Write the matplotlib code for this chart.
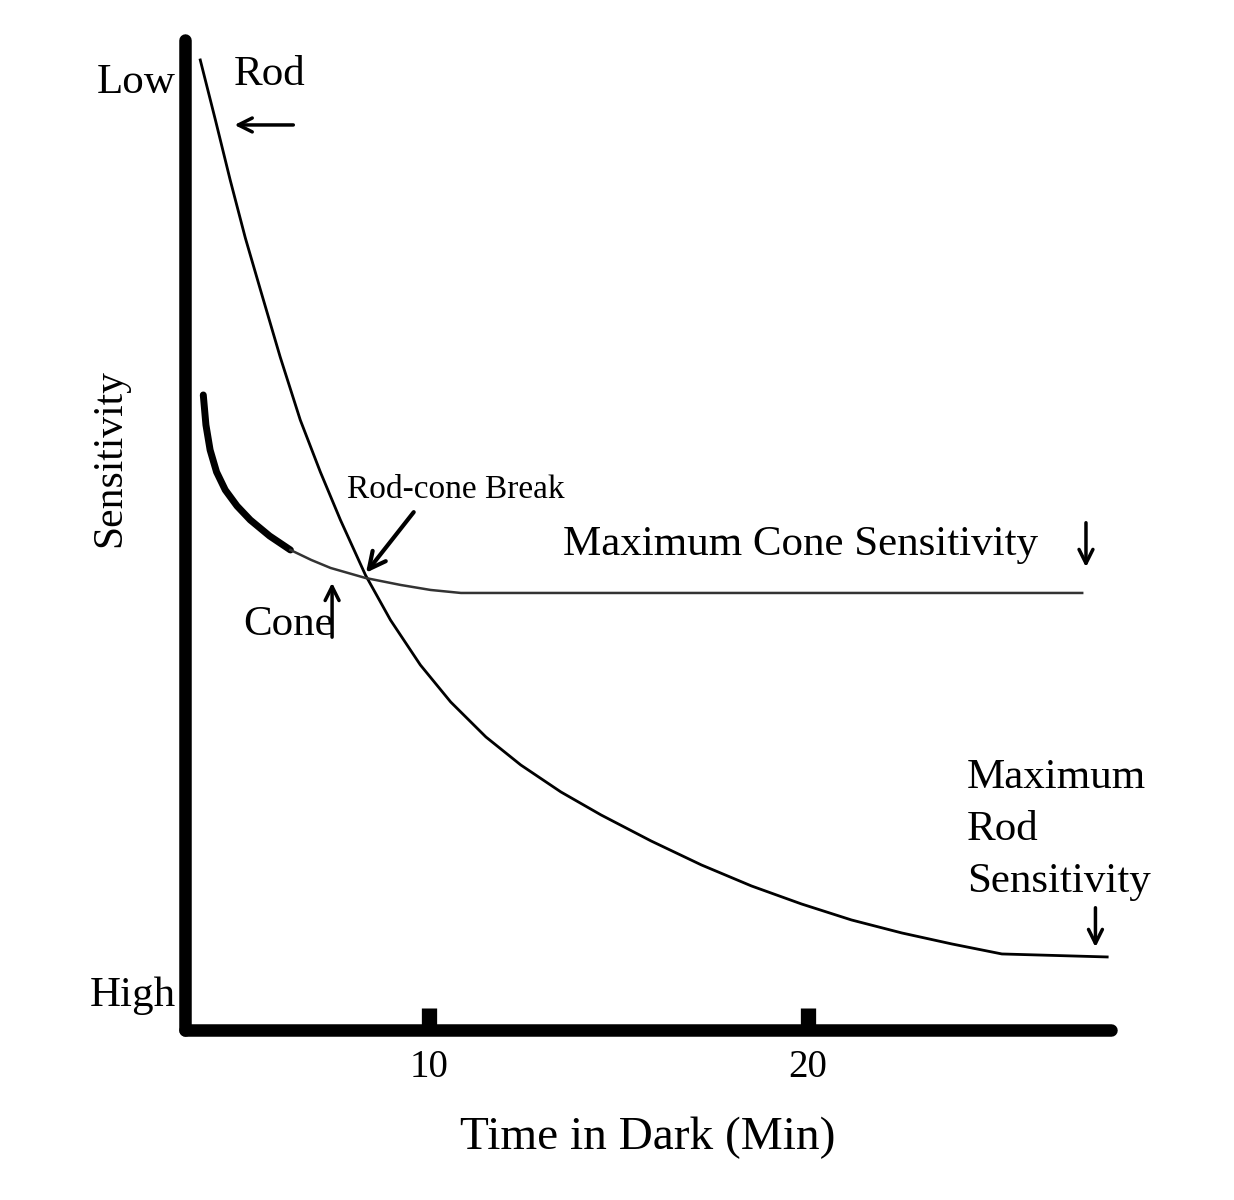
import numpy as np
import matplotlib.pyplot as plt

plt.rcParams['font.family'] = ['Liberation Serif', 'DejaVu Serif']

# curves: time (min) vs sensitivity (arbitrary, 0 = high, 99 = low)
rod_t = [3.97, 4.37, 4.76, 5.16, 5.56, 6.08, 6.61, 7.14, 7.67, 8.33, 8.99, 9.78, 10.58, 11.51,
         12.43, 13.49, 14.55, 15.87, 17.20, 18.52, 19.84, 21.16, 22.49, 23.81, 25.13, 27.91]
rod_s = [97.0, 91.0, 85.0, 79.2, 74.0, 67.3, 61.0, 55.8, 51.0, 45.5, 41.0, 36.5, 32.8, 29.3,
         26.5, 23.8, 21.5, 18.9, 16.5, 14.4, 12.6, 11.0, 9.7, 8.6, 7.6, 7.3]
cone_t = [4.05, 4.12, 4.23, 4.40, 4.63, 4.94, 5.29, 5.80, 6.35, 6.90, 7.41, 8.33, 9.26, 10.05, 10.85, 14.55, 27.25]
cone_s = [63.5, 60.5, 58.0, 55.8, 54.0, 52.4, 51.0, 49.4, 48.0, 47.0, 46.2, 45.2, 44.5, 44.0, 43.7, 43.7, 43.7]

fig = plt.figure(figsize=(12.34, 12), dpi=100)
ax = fig.add_axes([0.15, 0.1417, 0.75, 0.825])
ax.set_xlim(3.57, 28.0)
ax.set_ylim(0, 99)

ax.plot(rod_t, rod_s, color='black', lw=2)
ax.plot(cone_t[:9], cone_s[:9], color='black', lw=5, solid_capstyle='round')
ax.plot(cone_t[8:], cone_s[8:], color='#333333', lw=1.8)

for s in ['top', 'right']:
    ax.spines[s].set_visible(False)
for s in ['left', 'bottom']:
    ax.spines[s].set_linewidth(9)
    ax.spines[s].set_capstyle('round')
ax.set_xticks([10, 20])
ax.set_xticklabels(['10', '20'], fontsize=28)
ax.tick_params(axis='x', length=16, width=11, direction='in', pad=14)
ax.set_yticks([])
ax.set_xlabel('Time in Dark (Min)', fontsize=34, labelpad=22)
ax.set_ylabel('Sensitivity', fontsize=30, labelpad=30)
ax.yaxis.set_label_coords(-0.06, 0.578)

tf = 31
ax.text(-0.01, 0.957, 'Low', transform=ax.transAxes, ha='right', va='center', fontsize=tf)
ax.text(-0.01, 0.035, 'High', transform=ax.transAxes, ha='right', va='center', fontsize=tf)
ax.text(5.8, 95.5, 'Rod', ha='center', va='center', fontsize=tf)
ax.annotate('', xy=(4.8, 90.5), xytext=(6.5, 90.5),
            arrowprops=dict(arrowstyle='->', lw=2.5, mutation_scale=25))
ax.text(6.3, 40.5, 'Cone', ha='center', va='center', fontsize=tf)
ax.annotate('', xy=(7.45, 45.0), xytext=(7.45, 39),
            arrowprops=dict(arrowstyle='->', lw=2.5, mutation_scale=25))
ax.text(7.85, 54, 'Rod-cone Break', ha='left', va='center', fontsize=24)
ax.annotate('', xy=(8.3, 45.5), xytext=(9.65, 52),
            arrowprops=dict(arrowstyle='->', lw=3, mutation_scale=30))
ax.text(13.55, 48.5, 'Maximum Cone Sensitivity', ha='left', va='center', fontsize=tf)
ax.annotate('', xy=(27.35, 46), xytext=(27.35, 51),
            arrowprops=dict(arrowstyle='->', lw=2.5, mutation_scale=25))
ax.text(24.2, 20, 'Maximum\nRod\nSensitivity', ha='left', va='center',
        fontsize=tf, linespacing=1.45)
ax.annotate('', xy=(27.6, 8.0), xytext=(27.6, 12.5),
            arrowprops=dict(arrowstyle='->', lw=2.5, mutation_scale=25))

fig.savefig('out.png', dpi=100)
